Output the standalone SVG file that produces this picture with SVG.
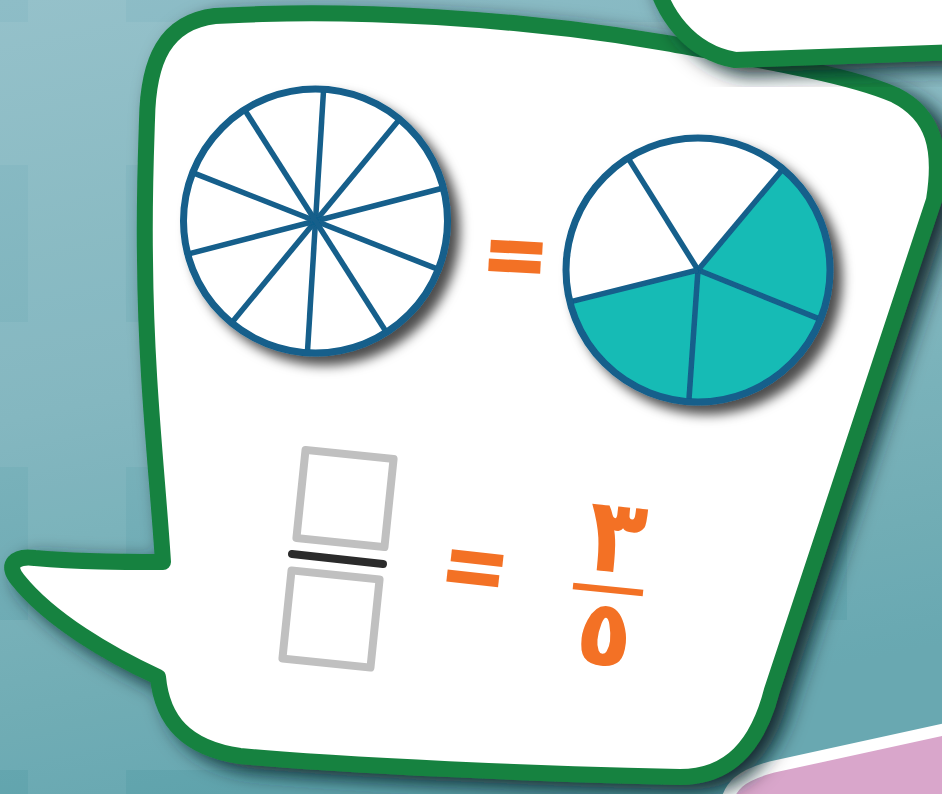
<svg xmlns="http://www.w3.org/2000/svg" width="942" height="794" viewBox="0 0 942 794">
<defs>
<linearGradient id="bg" x1="0" y1="0" x2="0.25" y2="1">
<stop offset="0" stop-color="#8ebdc7"/>
<stop offset="0.5" stop-color="#7cb3bc"/>
<stop offset="1" stop-color="#5fa3ac"/>
</linearGradient>
<filter id="bshadow" x="-20%" y="-20%" width="150%" height="150%">
<feGaussianBlur in="SourceAlpha" stdDeviation="10"/>
<feOffset dx="12" dy="8" result="b"/>
<feFlood flood-color="#0b2226" flood-opacity="0.92"/>
<feComposite in2="b" operator="in"/>
<feMerge><feMergeNode/><feMergeNode in="SourceGraphic"/></feMerge>
</filter>
<filter id="cshadow" x="-20%" y="-20%" width="150%" height="150%">
<feGaussianBlur in="SourceAlpha" stdDeviation="6"/>
<feOffset dx="9" dy="9" result="b"/>
<feFlood flood-color="#000" flood-opacity="0.7"/>
<feComposite in2="b" operator="in"/>
<feMerge><feMergeNode/><feMergeNode in="SourceGraphic"/></feMerge>
</filter>
<style>
.bubble{fill:#fff;stroke:#16823f;stroke-width:16;stroke-linejoin:round}
.disc{fill:#fff}
.ring{fill:none;stroke:#125e8b;stroke-width:7}
.spoke{stroke:#125e8b;stroke-width:5.5;stroke-linecap:butt}
.teal{fill:#18bbb5}
.box{fill:none;stroke:#c0c0c0;stroke-width:8;stroke-linejoin:round}
.orange{fill:#f37125}
.digit{font-family:"DejaVu Sans",sans-serif;font-weight:bold;fill:#f37125;text-anchor:middle}
</style>
</defs>
<g id="background">
<rect width="942" height="794" fill="url(#bg)"/>
<g fill="#fff" opacity="0.06">
<rect x="0" y="22" width="942" height="143"/>
<rect x="0" y="322" width="942" height="145"/>
<rect x="0" y="620" width="942" height="150"/>
<rect x="28" y="0" width="98" height="794"/>
<rect x="847" y="0" width="95" height="794"/>
</g>
</g>
<g id="pink-shape">
<path d="M 725 810 C 728 785 742 775 772 767 L 955 727 L 955 810 Z" fill="#d9a6cb" stroke="#fff" stroke-width="12"/>
</g>
<g id="main-bubble" filter="url(#bshadow)">
<path class="bubble" d="M 147 120 C 148 60 165 22 215 16 C 350 8 520 18 666 43 C 760 60 850 75 895 95 C 935 115 942 150 934 200 L 772 690 C 758 745 730 777 680 777 C 540 774 350 766 240 756 C 185 748 162 720 158 677 C 110 655 50 620 18 580 C 5 565 15 555 35 558 C 80 562 120 562 163 562 C 157 470 146 380 145 260 C 144 200 146 150 147 120 Z"/>
</g>
<g id="top-bubble" filter="url(#bshadow)">
<path class="bubble" d="M 652 -30 C 662 15 690 52 735 60 L 960 52 L 960 -30 Z"/>
</g>
<g id="circle-tenths" filter="url(#cshadow)">
<circle class="disc" cx="315.5" cy="221" r="132"/>
<line class="spoke" x1="323.6" y1="89.3" x2="307.4" y2="352.8"/>
<line class="spoke" x1="399.5" y1="119.2" x2="231.5" y2="322.9"/>
<line class="spoke" x1="443.3" y1="188.0" x2="187.7" y2="254.1"/>
<line class="spoke" x1="438.3" y1="269.4" x2="192.7" y2="172.6"/>
<line class="spoke" x1="386.4" y1="332.3" x2="244.6" y2="109.7"/>
<circle class="ring" cx="315.5" cy="221" r="132"/>
</g>
<g id="equals-1" class="orange" transform="rotate(3 516 257)">
<rect x="490" y="241" width="52" height="12.5"/>
<rect x="489" y="260" width="52" height="12.5"/>
</g>
<g id="circle-fifths" filter="url(#cshadow)">
<circle class="disc" cx="698" cy="270" r="132"/>
<path class="teal" d="M 698 270 L 782.8 168.9 A 132 132 0 1 1 569.9 301.9 Z"/>
<line class="spoke" x1="698" y1="270" x2="628.1" y2="158.1"/>
<line class="spoke" x1="698" y1="270" x2="782.8" y2="168.9"/>
<line class="spoke" x1="698" y1="270" x2="820.4" y2="319.4"/>
<line class="spoke" x1="698" y1="270" x2="688.8" y2="401.7"/>
<line class="spoke" x1="698" y1="270" x2="569.9" y2="301.9"/>
<circle class="ring" cx="698" cy="270" r="132"/>
</g>
<g id="blank-fraction">
<rect class="box" x="300.75" y="454.25" width="88.5" height="88.5" transform="rotate(5.9 345 498.5)"/>
<line x1="292" y1="554" x2="383" y2="564" stroke="#2b2b2b" stroke-width="8" stroke-linecap="round"/>
<rect class="box" x="286.75" y="574.75" width="88.5" height="88.5" transform="rotate(5.9 331 619)"/>
</g>
<g id="equals-2" class="orange" transform="rotate(6.3 475 568)">
<rect x="450" y="552" width="52" height="12"/>
<rect x="448" y="572.5" width="52" height="12"/>
</g>
<g id="fraction-3-5">
<text class="digit" x="617" y="572" font-size="96" transform="rotate(6 617 537) translate(617 500) scale(1 1.08) translate(-617 -505)">٣</text>
<line x1="573" y1="586" x2="643" y2="593" stroke="#f37125" stroke-width="6.5"/>
<text class="digit" x="604" y="665" font-size="92" transform="rotate(6 604 639)">٥</text>
</g>
</svg>
